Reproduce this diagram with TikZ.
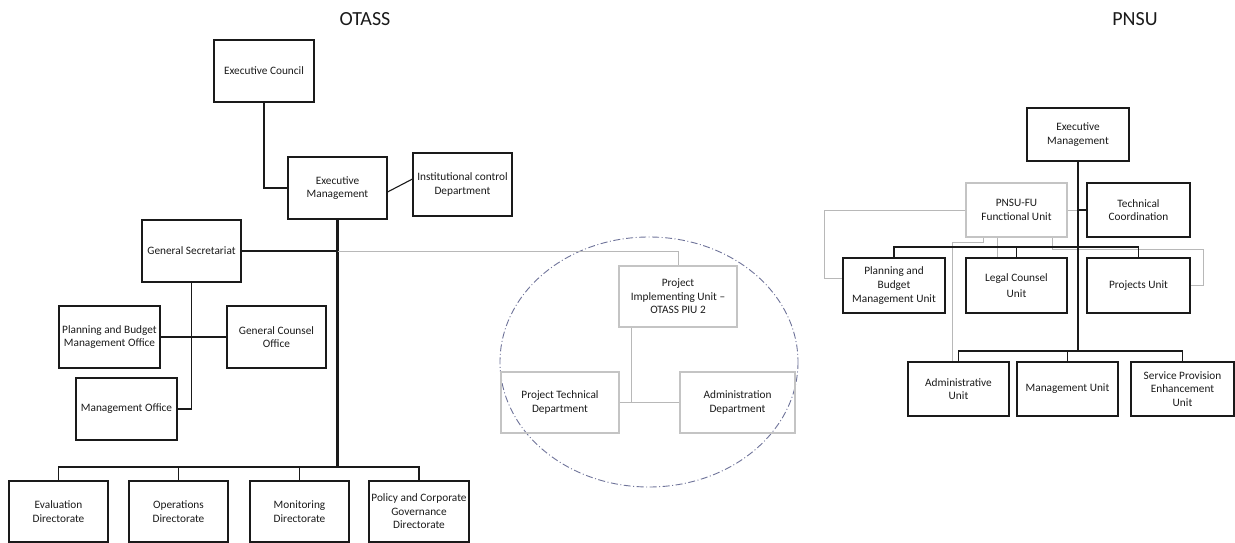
\documentclass[tikz,border=0pt]{standalone}
\usepackage{fontspec}
\setmainfont{Carlito}
\usetikzlibrary{calc}
\definecolor{txt}{HTML}{1A1A1A}
\definecolor{lgray}{HTML}{B8B8B8}
\definecolor{bgray}{HTML}{C4C4C4}
\definecolor{ellc}{HTML}{6E7399}
\tikzset{
  box/.style={draw=txt, line width=1.1pt, inner sep=0pt, align=center, text=txt,
    font=\fontsize{11.3}{13.6}\selectfont},
  obox/.style={box, minimum width=99pt, minimum height=62pt},
  pbox/.style={box, minimum width=102pt, minimum height=54pt},
  gbox/.style={draw=bgray},
  conn/.style={draw=txt, line width=1.1pt},
  trunk/.style={draw=txt, line width=2.1pt},
  gline/.style={draw=lgray, line width=0.9pt},
  title/.style={text=txt, font=\fontsize{20}{22}\selectfont}
}
\begin{document}
\begin{tikzpicture}[x=1pt,y=-1pt]
\useasboundingbox (0,0) rectangle (1235,543);

% titles
\node[title] (t1) at (365,19) {OTASS};
\node[title] (t2) at (1135,19) {PNSU};

% ---------- OTASS ----------
\node[obox, minimum width=100pt] (ec) at (264,71) {Executive Council};
\node[obox] (em) at (337.5,188) {Executive\\Management};
\node[obox, minimum height=63pt] (icd) at (462.5,184.5) {Institutional control\\Department};
\node[obox] (gs) at (191.5,251) {General Secretariat};
\node[obox, minimum width=101pt] (pbo) at (109.5,337) {Planning and Budget\\Management Office};
\node[obox] (gco) at (276.5,337) {General Counsel\\Office};
\node[obox, minimum width=101pt] (mo) at (126.5,409) {Management Office};
\node[obox, minimum height=61pt] (ev) at (58.5,511.5) {Evaluation\\Directorate};
\node[obox, minimum height=61pt] (op) at (178.5,511.5) {Operations\\Directorate};
\node[obox, minimum height=61pt] (mn) at (299.5,511.5) {Monitoring\\Directorate};
\node[obox, minimum height=61pt, minimum width=100pt] (pc) at (419,511.5) {Policy and Corporate\\Governance\\Directorate};

% PIU group
\draw[ellc, line width=0.9pt, dash pattern=on 7pt off 2.5pt on 1pt off 2.5pt] (649,362) ellipse [x radius=149, y radius=125];
\node[box, gbox, minimum width=118pt, minimum height=61pt] (piu) at (678,296.5) {Project\\Implementing Unit --\\OTASS PIU 2};
\node[box, gbox, minimum width=118pt, minimum height=61pt] (ptd) at (560,402.5) {Project Technical\\Department};
\node[box, gbox, minimum width=115pt, minimum height=61pt] (adm) at (737.5,402.5) {Administration\\Department};

\coordinate (obus) at (337.5,467);

% OTASS connectors
\draw[conn] (ec.south) |- (em.west);
\draw[conn] ([yshift=-4pt]em.east) -- ([yshift=5.5pt]icd.west);
\draw[trunk] (em.south) -- (obus);
\draw[conn] (obus) -| (ev.north);
\draw[conn] (obus) -| (op.north);
\draw[conn] (obus) -| (mn.north);
\draw[conn] (obus) -| (pc.north);
\draw[conn] (gs.east) -- (gs.east -| em.south);
\draw[gline] (gs.east -| em.south) -| (piu.north);
\draw[conn] (gs.south) |- (mo.east);
\draw[conn] (pbo.east) -- (gco.west);
\draw[gline] ([xshift=-47pt]piu.south) -- ([xshift=-47pt]piu.south |- ptd.east);
\draw[gline] (ptd.east) -- (adm.west);

% ---------- PNSU ----------
\node[pbox, minimum height=53pt] (pem) at (1078,134.5) {Executive\\Management};
\node[pbox, gbox, minimum width=101pt] (fu) at (1016.5,210) {PNSU-FU\\Functional Unit};
\node[pbox, minimum width=103pt] (tc) at (1138.5,210) {Technical\\Coordination};
\node[pbox, minimum height=55pt] (pbu) at (894,285.5) {Planning and\\Budget\\Management Unit};
\node[pbox, minimum width=101pt, minimum height=55pt] (lcu) at (1016.5,285.5) {Legal Counsel\\[3pt]Unit};
\node[pbox, minimum width=103pt, minimum height=55pt] (pu) at (1138.5,285.5) {Projects Unit};
\node[pbox, minimum width=101pt] (au) at (958.5,389) {Administrative\\Unit};
\node[pbox, minimum width=101pt] (mu) at (1067.5,389) {Management Unit};
\node[pbox, minimum width=103pt] (spu) at (1182.5,389) {Service Provision\\Enhancement\\Unit};

\coordinate (pbus1) at (1078,247);
\coordinate (pbus2) at (1078,351);

% gray connectors
\draw[gline] (fu.west) -- ++(-141,0) |- ([yshift=7.5pt]pbu.west);
\draw[gline] ([xshift=-33.5pt]fu.south) -- ++(0,5) -| ([xshift=-6.5pt]au.north);
\draw[gline] ([xshift=-19.5pt]fu.south) -- ([xshift=-19.5pt]lcu.north);
\draw[gline] ([xshift=35.5pt]fu.south) -- ++(0,12) -- ++(151,0) |- (pu.east);
\draw[gline] (fu.east) -- (fu.east -| pem.south);

% dark connectors
\draw[trunk] (pem.south) -- (pbus2);
\draw[conn] (tc.west) -- (tc.west -| pem.south);
\draw[conn] (pbus1) -| (pbu.north);
\draw[conn] (pbus1) -| (lcu.north);
\draw[conn] (pbus1) -| (pu.north);
\draw[conn] (pbus2) -| (au.north);
\draw[conn] (pbus2) -| (mu.north);
\draw[conn] (pbus2) -| (spu.north);
\end{tikzpicture}
\end{document}
